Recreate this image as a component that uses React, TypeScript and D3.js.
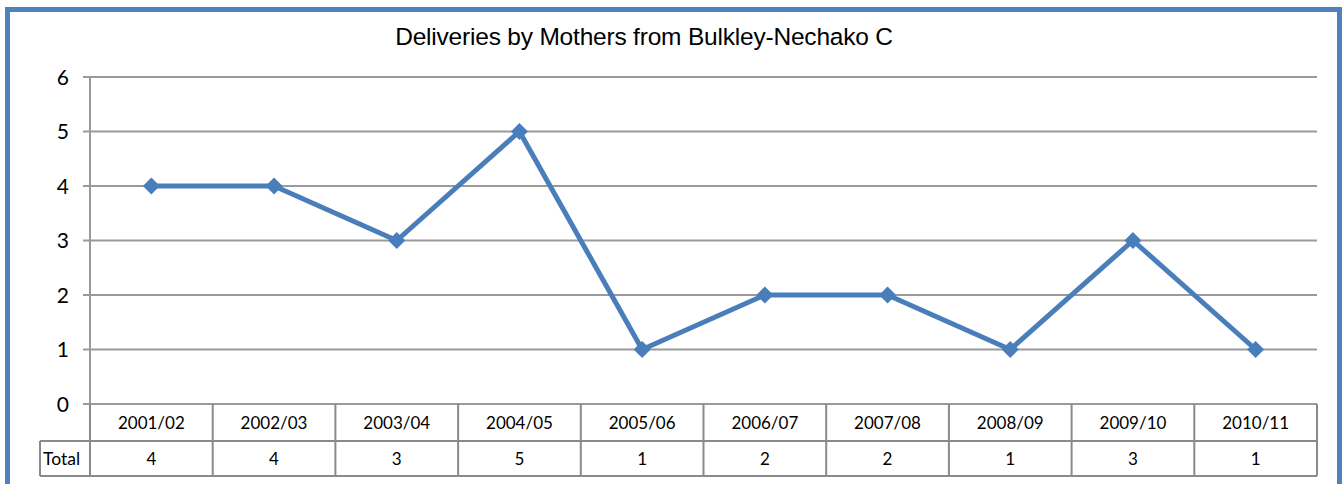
import React from "react";
import * as d3 from "d3";

const title = "Deliveries by Mothers from Bulkley-Nechako C";
const categories = ["2001/02", "2002/03", "2003/04", "2004/05", "2005/06", "2006/07", "2007/08", "2008/09", "2009/10", "2010/11"];
const totals = [4, 4, 3, 5, 1, 2, 2, 1, 3, 1];
const yTicks = [0, 1, 2, 3, 4, 5, 6];
const seriesName = "Total";

const W = 1343;
const H = 484;
const left = 90;
const right = 1317;
const top = 77;
const bottom = 404;
const row1 = 441;
const row2 = 476;
const legendLeft = 40;

export default function App() {
  const x = d3.scaleBand<string>().domain(categories).range([left, right]).padding(0);
  const y = d3.scaleLinear().domain([0, 6]).range([bottom, top]);
  const line = d3
    .line<number>()
    .x((_, i) => (x(categories[i]) as number) + x.bandwidth() / 2)
    .y((d) => y(d));
  const grid = "#9a9a9a";
  const tbl = "#8a8a8a";
  const blue = "#4A7EBB";
  const font = "Lato, 'Open Sans', sans-serif";
  const bounds = [...categories.map((c) => x(c) as number), right];
  return (
    <svg width={W} height={H} style={{ position: "absolute", left: 0, top: 0, display: "block", background: "#fff" }}>
      <rect x={7.5} y={9.5} width={1332} height={520} fill="#fff" stroke="#4F81BD" strokeWidth={5} />
      <text x={644} y={45} textAnchor="middle" fontFamily="'Liberation Sans', Arial, sans-serif" fontSize={24.5} letterSpacing={-0.2} fill="#000">
        {title}
      </text>
      {yTicks.map((t) => (
        <g key={t}>
          <line x1={83} x2={right} y1={y(t)} y2={y(t)} stroke={grid} strokeWidth={2} />
          <text x={69} y={y(t)} dy="0.36em" textAnchor="end" fontFamily={font} fontSize={21} fill="#000">
            {t}
          </text>
        </g>
      ))}
      <line x1={left} x2={left} y1={top} y2={row2} stroke={grid} strokeWidth={2} />
      {/* data table */}
      <line x1={legendLeft} x2={right} y1={row1} y2={row1} stroke={tbl} strokeWidth={2} />
      <line x1={legendLeft} x2={right} y1={row2} y2={row2} stroke={tbl} strokeWidth={2} />
      <line x1={legendLeft} x2={legendLeft} y1={row1} y2={row2} stroke={tbl} strokeWidth={2} />
      {bounds.map((b, i) => (
        <line key={i} x1={b} x2={b} y1={bottom} y2={row2} stroke={tbl} strokeWidth={2} />
      ))}
      {categories.map((c, i) => (
        <g key={c}>
          <text x={(x(c) as number) + x.bandwidth() / 2} y={(bottom + row1) / 2} dy="0.36em" textAnchor="middle" fontFamily={font} fontSize={17} fill="#000">
            {c}
          </text>
          <text x={(x(c) as number) + x.bandwidth() / 2} y={(row1 + row2) / 2} dy="0.36em" textAnchor="middle" fontFamily={font} fontSize={17} fill="#000">
            {totals[i]}
          </text>
        </g>
      ))}
      <text x={43} y={(row1 + row2) / 2} dy="0.36em" fontFamily={font} fontSize={17.5} fill="#000">
        {seriesName}
      </text>
      <path d={line(totals) || ""} fill="none" stroke={blue} strokeWidth={5} strokeLinejoin="round" />
      {totals.map((v, i) => {
        const cx = (x(categories[i]) as number) + x.bandwidth() / 2;
        const cy = y(v);
        const r = 8.5;
        return <path key={i} d={`M${cx},${cy - r}L${cx + r},${cy}L${cx},${cy + r}L${cx - r},${cy}Z`} fill={blue} />;
      })}
    </svg>
  );
}
